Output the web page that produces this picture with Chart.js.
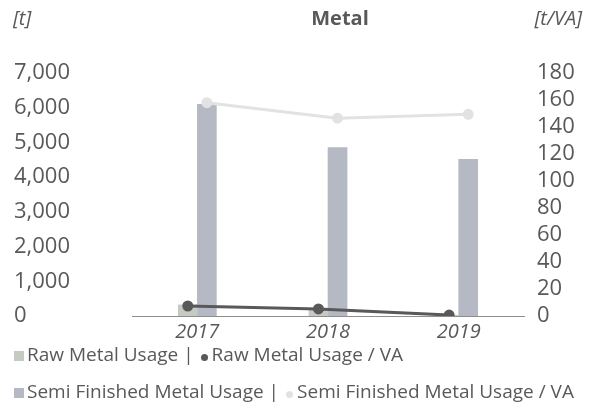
<!DOCTYPE html>
<html>
<head>
<meta charset="utf-8">
<script src="https://cdn.jsdelivr.net/npm/chart.js@4.4.0/dist/chart.umd.min.js"></script>
<style>
	body { margin: 0; background: #fff; }
	#wrap { position: relative; width: 604px; height: 409px; font-family: 'Open Sans', sans-serif; color: #595959; }
	#metalChart { position: absolute; left: 0; top: 0; }
	.head { position: absolute; top: 4px; font-size: 20px; }
	.legend { position: absolute; left: 14px; font-size: 19px; white-space: nowrap; }
	.legend .row { height: 37px; line-height: 37px; }
	.sq { display: inline-block; width: 10px; height: 10px; margin-right: 3px; }
	.dot { display: inline-block; width: 7px; height: 7px; border-radius: 50%; margin: 0 4px 0 7px; }
</style>
</head>
<body>
<div id="wrap">
	<canvas id="metalChart" width="604" height="409"></canvas>
	<div class="head" style="left:13px;font-style:italic">[t]</div>
	<div class="head" style="left:0;width:680px;text-align:center;font-weight:bold">Metal</div>
	<div class="head" style="right:22px;font-style:italic">[t/VA]</div>
	<div class="legend" id="legend" style="top:336px"></div>
</div>
<script>
// Metal usage chart
const years = ['2017', '2018', '2019']
const rawUsage = [320, 200, 25]
const semiUsage = [6100, 4850, 4510]
const rawPerVA = [7.4, 5.2, 0.7]
const semiPerVA = [158, 146.5, 149.4]

const leftTicks = { min: 0, max: 7000, step: 1000 }
const rightTicks = { min: 0, max: 180, step: 20 }

const textColor = '#595959'
const barWidth = 19
// half a bar, in category units: raw sits left of the year, semi right
const shift = 0.073

const font = { family: 'Open Sans', size: 22 }
const atYear = (arr, dx) => arr.map((v, i) => ({ x: i + dx, y: v }))

const ctx = document.getElementById('metalChart').getContext('2d')
const metalChart = new Chart(ctx, {
	type: 'bar',
	data: {
		datasets: [
			{
				label: 'Raw Metal Usage',
				data: atYear(rawUsage, -shift),
				backgroundColor: '#c5cbc3',
				yAxisID: 'y',
				order: 1,
				grouped: false,
				barThickness: barWidth,
			},
			{
				label: 'Semi Finished Metal Usage',
				data: atYear(semiUsage, shift),
				backgroundColor: '#b5b9c3',
				yAxisID: 'y',
				order: 1,
				grouped: false,
				barThickness: barWidth,
			},
			{
				type: 'line',
				label: 'Raw Metal Usage / VA',
				data: atYear(rawPerVA, -shift),
				yAxisID: 'y1',
				borderColor: '#595959',
				backgroundColor: '#595959',
				borderWidth: 3,
				pointRadius: 4,
				order: 0,
			},
			{
				type: 'line',
				label: 'Semi Finished Metal Usage / VA',
				data: atYear(semiPerVA, shift),
				yAxisID: 'y1',
				borderColor: '#e2e2e2',
				backgroundColor: '#e2e2e2',
				borderWidth: 3,
				pointRadius: 4,
				order: 0,
			},
		],
	},
	options: {
		responsive: false,
		animation: false,
		layout: { padding: { top: 73, left: 14, right: 0, bottom: 61 } },
		plugins: {
			legend: { display: false },
			title: { display: false },
			tooltip: { enabled: false },
		},
		scales: {
			x: {
				type: 'linear',
				offset: false,
				min: -0.5,
				max: years.length - 0.5,
				grid: { display: false, drawTicks: false },
				border: { display: true, color: '#8e8e8e', width: 1 },
				afterBuildTicks: (scale) => {
					scale.ticks = years.map((y, i) => ({ value: i }))
				},
				ticks: {
					color: textColor,
					font: { family: 'Open Sans', size: 20, style: 'italic' },
					padding: 4,
					callback: (v) => years[v],
				},
			},
			y: {
				position: 'left',
				min: leftTicks.min,
				max: leftTicks.max,
				grid: { display: false, drawTicks: false },
				border: { display: false },
				ticks: {
					stepSize: leftTicks.step,
					autoSkip: false,
					color: textColor,
					font: font,
					crossAlign: 'far',
					callback: (v) => v.toLocaleString('en-US'),
				},
				afterFit: (scale) => { scale.width = 118 },
			},
			y1: {
				position: 'right',
				min: rightTicks.min,
				max: rightTicks.max,
				grid: { display: false, drawTicks: false },
				border: { display: false },
				ticks: {
					stepSize: rightTicks.step,
					autoSkip: false,
					color: textColor,
					font: font,
					padding: 13,
				},
				afterFit: (scale) => { scale.width = 80 },
			},
		},
	},
})

// legend, two rows like the original
const legend = document.getElementById('legend')
const ds = metalChart.data.datasets
const rows = [[ds[0], ds[2]], [ds[1], ds[3]]]
rows.forEach(([bar, line]) => {
	const row = document.createElement('div')
	row.className = 'row'
	row.innerHTML =
		`<span class="sq" style="background:${bar.backgroundColor}"></span>${bar.label} |` +
		`<span class="dot" style="background:${line.backgroundColor}"></span>${line.label}`
	legend.appendChild(row)
})
</script>
</body>
</html>
